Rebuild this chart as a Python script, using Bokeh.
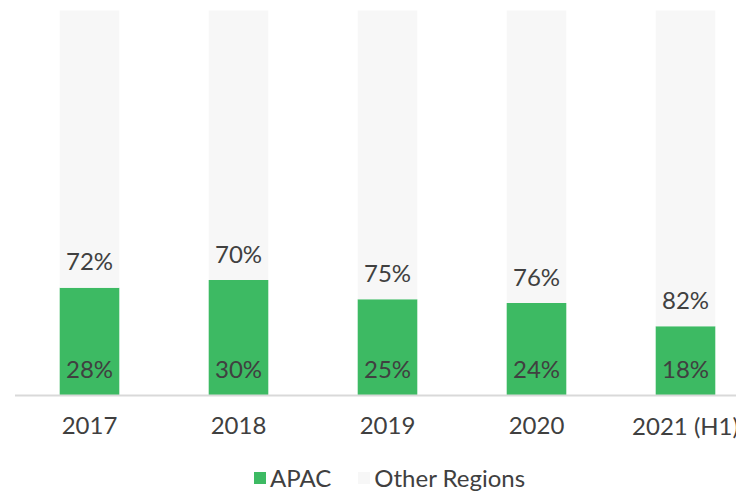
from bokeh.plotting import figure
from bokeh.models import ColumnDataSource, Range1d, Legend, LegendItem
from bokeh.core.properties import value
from bokeh.embed import file_html
from bokeh.resources import INLINE

years = ["2017", "2018", "2019", "2020", "2021 (H1)"]
apac = [28, 30, 25, 24, 18]
other = [72, 70, 75, 76, 82]

GREEN = "#3dba63"
GRAY = "#f7f7f7"
TEXT = "#404040"
FONT = "Lato"
FS = "24px"

W, H = 736, 492
# pixel layout of the plotting area (frame spans the whole canvas)
X0_PX, STEP_PX = 14.5, 149.0      # left edge of first category, px per category
Y0_PX, Y100_PX = 395.0, 10.0      # screen rows of 0% and 100%
ppu = (Y0_PX - Y100_PX) / 100.0

xs = [i + 0.5 for i in range(len(years))]
src = ColumnDataSource(dict(
    x=xs, apac=apac, other=other,
    apac_lbl=[f"{v}%" for v in apac],
    other_lbl=[f"{v}%" for v in other],
    year=years,
    zero=[0] * len(years),
))

p = figure(width=W, height=H, output_backend="svg", toolbar_location=None,
           x_range=Range1d(-X0_PX / STEP_PX, (W - X0_PX) / STEP_PX),
           y_range=Range1d(-(H - Y0_PX) / ppu, 100 + Y100_PX / ppu),
           min_border=0)
p.outline_line_color = None
p.grid.grid_line_color = None
p.xaxis.visible = False
p.yaxis.visible = False

r = p.vbar_stack(["apac", "other"], x="x", width=0.4, source=src,
                 color=[GREEN, GRAY], line_color=None)

# baseline (category axis line)
p.segment(x0=0, y0=0, x1=len(years), y1=0, line_color="#d9d9d9", line_width=2)

common = dict(source=src, text_align="center", text_baseline="alphabetic",
              text_color=TEXT, text_font=value(FONT), text_font_size=FS)
p.text(x="x", y="zero", text="apac_lbl", y_offset=-27, **common)
p.text(x="x", y="apac", text="other_lbl", y_offset=-27, **common)
# category labels
p.text(x="x", y="zero", text="year", y_offset=30, **common)

legend = Legend(items=[LegendItem(label="APAC", renderers=[r[0]]),
                       LegendItem(label="Other Regions", renderers=[r[1]])],
                orientation="horizontal", location=(252, 0),
                border_line_color=None, background_fill_alpha=0,
                padding=0, margin=0, spacing=25, label_standoff=3,
                glyph_width=15, glyph_height=15,
                label_text_font=FONT, label_text_font_size=FS,
                label_text_color=TEXT)
p.add_layout(legend, "center")

open("out.html", "w").write(file_html(p, INLINE))
